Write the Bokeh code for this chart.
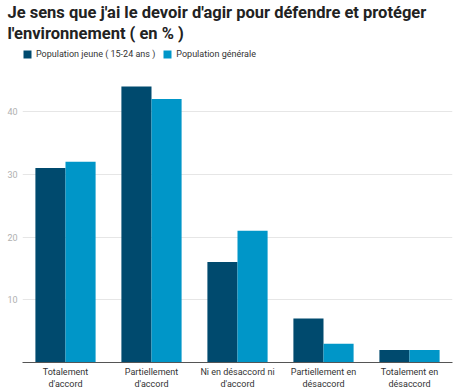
from bokeh.plotting import figure
from bokeh.models import ColumnDataSource, FixedTicker, Legend, LegendItem, Title, Range1d
from bokeh.transform import dodge
from bokeh.embed import file_html
from bokeh.resources import INLINE

categories = ["Totalement\nd'accord", "Partiellement\nd'accord", "Ni en désaccord ni\nd'accord",
              "Partiellement en\ndésaccord", "Totalement en\ndésaccord"]
jeune = [31, 44, 16, 7, 2]
generale = [32, 42, 21, 3, 2]
series_names = ["Population jeune ( 15-24 ans )", "Population générale"]
y_ticks = [10, 20, 30, 40]
title_lines = ["Je sens que j'ai le devoir d'agir pour défendre et protéger",
               "l'environnement ( en % )"]

src = ColumnDataSource(dict(cat=categories, jeune=jeune, generale=generale))

p = figure(x_range=categories, y_range=Range1d(0, 51), width=460, height=392,
           output_backend="svg", toolbar_location=None, title=None,
           min_border_left=22, min_border_right=8, min_border_top=0, min_border_bottom=30)
p.outline_line_color = None
p.background_fill_color = "white"
p.border_fill_color = "white"

r1 = p.vbar(x=dodge("cat", -0.175, range=p.x_range), top="jeune", width=0.35, source=src,
            fill_color="#004a6e", line_color=None)
r2 = p.vbar(x=dodge("cat", 0.175, range=p.x_range), top="generale", width=0.35, source=src,
            fill_color="#0096c8", line_color=None)
p.x_range.range_padding = 0

p.xgrid.grid_line_color = None
p.ygrid.grid_line_color = "#e6e6e6"
p.ygrid.ticker = FixedTicker(ticks=y_ticks)

p.yaxis.ticker = FixedTicker(ticks=y_ticks)
p.yaxis.axis_line_color = None
p.yaxis.major_tick_line_color = None
p.yaxis.minor_tick_line_color = None
p.yaxis.major_tick_out = 0
p.yaxis.major_tick_in = 0
p.yaxis.minor_tick_out = 0
p.yaxis.major_label_text_color = "#b0b0b0"
p.yaxis.major_label_text_font = "Roboto"
p.yaxis.major_label_text_font_size = "9px"
p.yaxis.major_label_standoff = 5

p.xaxis.axis_line_color = "#555555"
p.xaxis.major_tick_line_color = None
p.xaxis.minor_tick_line_color = None
p.xaxis.major_tick_out = 0
p.xaxis.major_tick_in = 0
p.xaxis.major_label_text_color = "#333333"
p.xaxis.major_label_text_font = "Roboto"
p.xaxis.major_label_text_font_size = "9px"
p.xaxis.major_label_standoff = 4

legend = Legend(items=[LegendItem(label=series_names[0], renderers=[r1]),
                       LegendItem(label=series_names[1], renderers=[r2])],
                orientation="horizontal", location=(0, 303),
                label_text_font="Roboto", label_text_font_size="9px", label_text_color="#333333",
                glyph_width=10, glyph_height=10, label_standoff=4, spacing=7,
                padding=0, margin=0, border_line_color=None, background_fill_alpha=0,
                label_height=10)
p.add_layout(legend)
p.add_layout(Title(text=title_lines[1], text_font="Roboto", text_font_size="16.5px",
                   text_font_style="bold", text_color="#222222", offset=-15, standoff=0), "above")
p.add_layout(Title(text=title_lines[0], text_font="Roboto", text_font_size="16.5px",
                   text_font_style="bold", text_color="#222222", offset=-15, standoff=0), "above")

open("out.html", "w").write(file_html(p, INLINE))
